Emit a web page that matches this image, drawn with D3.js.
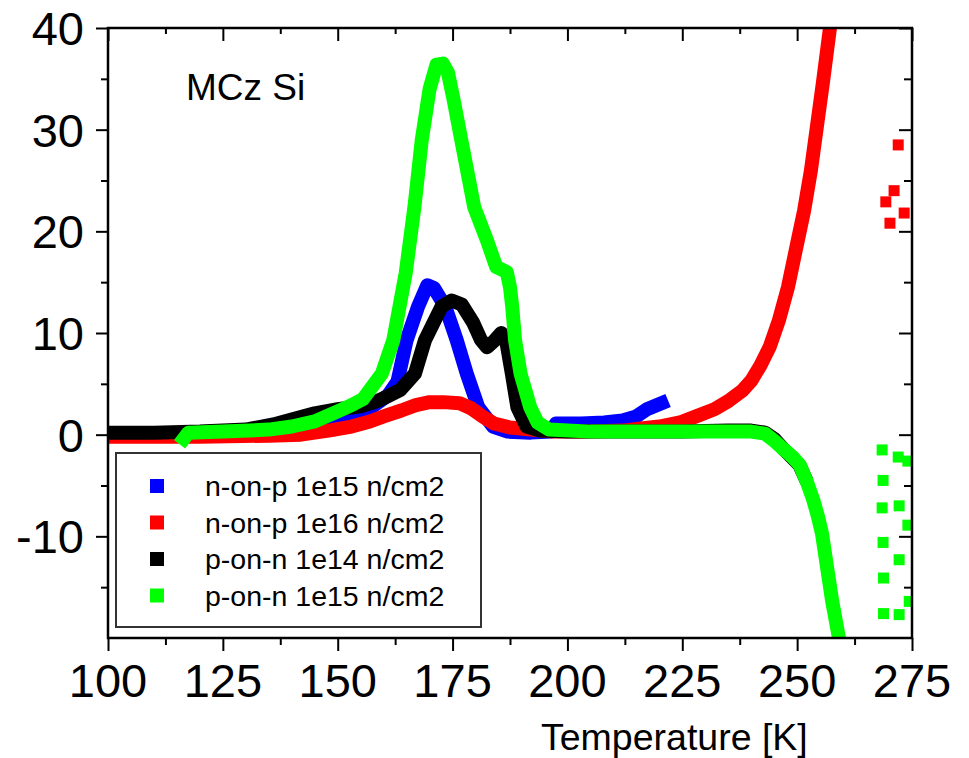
<!DOCTYPE html>
<html>
<head>
<meta charset="utf-8">
<script src="https://cdn.jsdelivr.net/npm/d3@7"></script>
<style>
  body { margin: 0; background: #fff; }
  svg text { font-family: "Liberation Sans", Arial, Helvetica, sans-serif; fill: #000; }
</style>
</head>
<body>
<svg id="chart" width="969" height="758"></svg>
<script>
// series: temperature [K] and signal
const blueT = [100, 110, 120, 130, 135, 140, 145, 150, 155, 158, 161, 163, 165, 167.5, 169.5, 171, 173.4, 175.9, 178.1, 180.6, 183.8, 187, 192, 196.5, 197.5, 203, 208, 212, 215, 217.3, 220.5];
const blueV = [0.1, 0.1, 0.2, 0.4, 0.7, 0.9, 1.1, 1.4, 2.1, 2.9, 3.9, 5.2, 9.3, 12.6, 14.7, 14.4, 12.6, 9.3, 6.0, 2.7, 0.8, 0.3, 0.2, 0.3, 1.1, 1.1, 1.2, 1.4, 1.8, 2.5, 3.1];

const redT = [100, 120, 135, 142, 148, 153, 157, 160, 164, 167, 170, 173, 176.5, 179, 181.5, 184, 187.5, 192, 197, 205, 212, 216, 220, 224.5, 228, 232, 235, 238, 240, 242, 244, 246, 248, 250, 251.5, 253, 254.3, 255.6, 257, 258];
const redV = [-0.2, -0.2, -0.1, 0.0, 0.4, 0.8, 1.3, 1.8, 2.4, 2.9, 3.2, 3.2, 3.1, 2.6, 1.8, 1.1, 0.7, 0.5, 0.3, 0.3, 0.4, 0.6, 0.8, 1.2, 1.8, 2.5, 3.3, 4.3, 5.3, 6.8, 8.6, 11.2, 14.5, 18.8, 22.0, 26.0, 30.3, 34.6, 39.5, 43];

const blackT = [100, 110, 120, 130, 136, 140, 145, 150, 155, 158, 161, 163.6, 166.8, 169, 172.6, 174.8, 177, 179.5, 181.2, 182.5, 184, 185.6, 186.6, 187.9, 189.1, 191.1, 194, 200, 210, 225, 235, 240, 243, 245, 247, 249, 250.5, 251.5];
const blackV = [0.2, 0.2, 0.3, 0.5, 1.0, 1.5, 2.1, 2.5, 2.8, 3.2, 3.8, 4.4, 6.0, 9.3, 12.6, 13.2, 12.8, 11.0, 9.3, 8.6, 9.2, 10.0, 9.4, 6.0, 2.7, 0.8, 0.4, 0.3, 0.3, 0.3, 0.4, 0.4, 0.2, -0.4, -1.4, -2.3, -3.0, -4.0];

const greenT = [116.5, 117.5, 125, 135, 140, 145, 150, 153, 155.5, 159.6, 162.1, 164.8, 166.7, 168.3, 170, 171.5, 172.9, 174, 175.2, 176.8, 179.7, 182.5, 184.5, 186.8, 187.5, 188, 188.6, 189.8, 191.9, 193.5, 196, 205, 220, 235, 240, 243, 245, 247, 249, 250.6, 252, 253.5, 254.5, 255.4, 256.5, 257.6, 258.9, 259.5];
const greenV = [-0.4, 0.2, 0.3, 0.5, 0.8, 1.3, 2.3, 2.9, 3.5, 6.0, 9.3, 15.9, 22.4, 29.0, 34.0, 36.4, 36.5, 35.6, 33.0, 29.2, 22.4, 19.1, 16.5, 16.0, 14.5, 12.5, 9.3, 6.0, 2.7, 1.2, 0.5, 0.3, 0.3, 0.3, 0.3, 0.1, -0.6, -1.4, -2.2, -3.0, -4.5, -6.4, -8.0, -9.7, -13.0, -16.3, -19.5, -21];

// loose points near 270 K
const redDotsT = [272.0, 271.1, 269.3, 273.3, 270.2];
const redDotsV = [28.5, 24.0, 22.9, 21.8, 20.8];
const greenDotsT = [268.5, 272.0, 274.1, 268.7, 268.5, 272.2, 274.1, 268.7, 272.2, 268.8, 274.4, 268.8, 272.2];
const greenDotsV = [-1.5, -2.2, -2.6, -4.5, -7.2, -7.0, -8.9, -10.6, -12.3, -14.1, -16.4, -17.6, -17.7];

const seriesNames = ["n-on-p 1e15 n/cm2", "n-on-p 1e16 n/cm2", "p-on-n 1e14 n/cm2", "p-on-n 1e15 n/cm2"];
const seriesColors = ["#0000ff", "#ff0000", "#000000", "#00ff00"];

const xTicks = [100, 125, 150, 175, 200, 225, 250, 275];
const xMinor = [112.5, 137.5, 162.5, 187.5, 212.5, 237.5, 262.5];
const yTicks = [-10, 0, 10, 20, 30, 40];
const yMinor = [-15, -5, 5, 15, 25, 35];

let svg = d3.select("#chart");

let plotLeft = 108, plotRight = 912, plotTop = 28, plotBottom = 638;

let x = d3.scaleLinear().domain([100, 275]).range([plotLeft, plotRight]);
let y = d3.scaleLinear().domain([-20, 40]).range([plotBottom, plotTop]);

svg.append("clipPath").attr("id", "plotClip")
    .append("rect")
    .attr("x", plotLeft).attr("y", plotTop)
    .attr("width", plotRight - plotLeft).attr("height", plotBottom - plotTop);

let plot = svg.append("g").attr("clip-path", "url(#plotClip)");

let line = d3.line()
    .x(function (d) { return x(d[0]); })
    .y(function (d) { return y(d[1]); });

let curves = [
    d3.zip(blueT, blueV),
    d3.zip(redT, redV),
    d3.zip(blackT, blackV),
    d3.zip(greenT, greenV)
];

curves.forEach(function (c, i) {
    plot.append("path")
        .datum(c)
        .attr("d", line)
        .attr("fill", "none")
        .attr("stroke", seriesColors[i])
        .attr("stroke-width", 14)
        .attr("stroke-linejoin", "round")
        .attr("stroke-linecap", "square");
});

// scattered squares on the right
let dotSize = 11;
function dots(ts, vs, color) {
    plot.append("g").selectAll("rect")
        .data(d3.zip(ts, vs))
        .enter().append("rect")
        .attr("x", function (d) { return x(d[0]) - dotSize / 2; })
        .attr("y", function (d) { return y(d[1]) - dotSize / 2; })
        .attr("width", dotSize)
        .attr("height", dotSize)
        .attr("fill", color);
}
dots(redDotsT, redDotsV, seriesColors[1]);
dots(greenDotsT, greenDotsV, seriesColors[3]);

// axes
function styleAxis(g) {
    g.select(".domain").remove();
    g.selectAll(".tick line").attr("stroke", "#000").attr("stroke-width", 2);
}

svg.append("g")
    .attr("transform", "translate(0," + plotBottom + ")")
    .call(d3.axisBottom(x).tickValues(xTicks).tickSize(13).tickFormat(""))
    .call(styleAxis);
svg.append("g")
    .attr("transform", "translate(0," + plotBottom + ")")
    .call(d3.axisBottom(x).tickValues(xMinor).tickSize(7).tickFormat(""))
    .call(styleAxis);
svg.append("g")
    .attr("transform", "translate(0," + plotTop + ")")
    .call(d3.axisBottom(x).tickValues(xTicks).tickSize(13).tickFormat(""))
    .call(styleAxis);
svg.append("g")
    .attr("transform", "translate(0," + plotTop + ")")
    .call(d3.axisBottom(x).tickValues(xMinor).tickSize(6).tickFormat(""))
    .call(styleAxis);

svg.append("g")
    .attr("transform", "translate(" + plotLeft + ",0)")
    .call(d3.axisLeft(y).tickValues(yTicks).tickSize(12).tickFormat(""))
    .call(styleAxis);
svg.append("g")
    .attr("transform", "translate(" + plotLeft + ",0)")
    .call(d3.axisLeft(y).tickValues(yMinor).tickSize(7).tickFormat(""))
    .call(styleAxis);
svg.append("g")
    .attr("transform", "translate(" + plotRight + ",0)")
    .call(d3.axisLeft(y).tickValues(yTicks).tickSize(13).tickFormat(""))
    .call(styleAxis);
svg.append("g")
    .attr("transform", "translate(" + plotRight + ",0)")
    .call(d3.axisLeft(y).tickValues(yMinor).tickSize(8).tickFormat(""))
    .call(styleAxis);

// tick labels
svg.append("g").selectAll("text")
    .data(xTicks)
    .enter().append("text")
    .attr("x", function (d) { return x(d); })
    .attr("y", 697)
    .attr("text-anchor", "middle")
    .attr("font-size", 47)
    .text(function (d) { return d; });

svg.append("g").selectAll("text")
    .data(yTicks)
    .enter().append("text")
    .attr("x", 84)
    .attr("y", function (d) { return y(d); })
    .attr("dy", "0.36em")
    .attr("text-anchor", "end")
    .attr("font-size", 47)
    .text(function (d) { return d; });

// frame
svg.append("rect")
    .attr("x", plotLeft).attr("y", plotTop)
    .attr("width", plotRight - plotLeft).attr("height", plotBottom - plotTop)
    .attr("fill", "none")
    .attr("stroke", "#000")
    .attr("stroke-width", 2.5);

svg.append("text")
    .attr("x", 541).attr("y", 750)
    .attr("font-size", 37.5)
    .text("Temperature [K]");

svg.append("text")
    .attr("x", 186).attr("y", 100)
    .attr("font-size", 37)
    .text("MCz Si");

// legend
let legend = svg.append("g");
legend.append("rect")
    .attr("x", 116).attr("y", 453)
    .attr("width", 365).attr("height", 174)
    .attr("fill", "#fff")
    .attr("stroke", "#333")
    .attr("stroke-width", 2);

let rows = legend.selectAll(".row")
    .data(seriesNames)
    .enter().append("g")
    .attr("class", "row")
    .attr("transform", function (d, i) { return "translate(0," + (486 + i * 36.5) + ")"; });

rows.append("rect")
    .attr("x", 150).attr("y", -7)
    .attr("width", 14).attr("height", 14)
    .attr("fill", function (d, i) { return seriesColors[i]; });

rows.append("text")
    .attr("x", 205)
    .attr("dy", "0.36em")
    .attr("font-size", 28.5)
    .text(function (d) { return d; });
</script>
</body>
</html>
